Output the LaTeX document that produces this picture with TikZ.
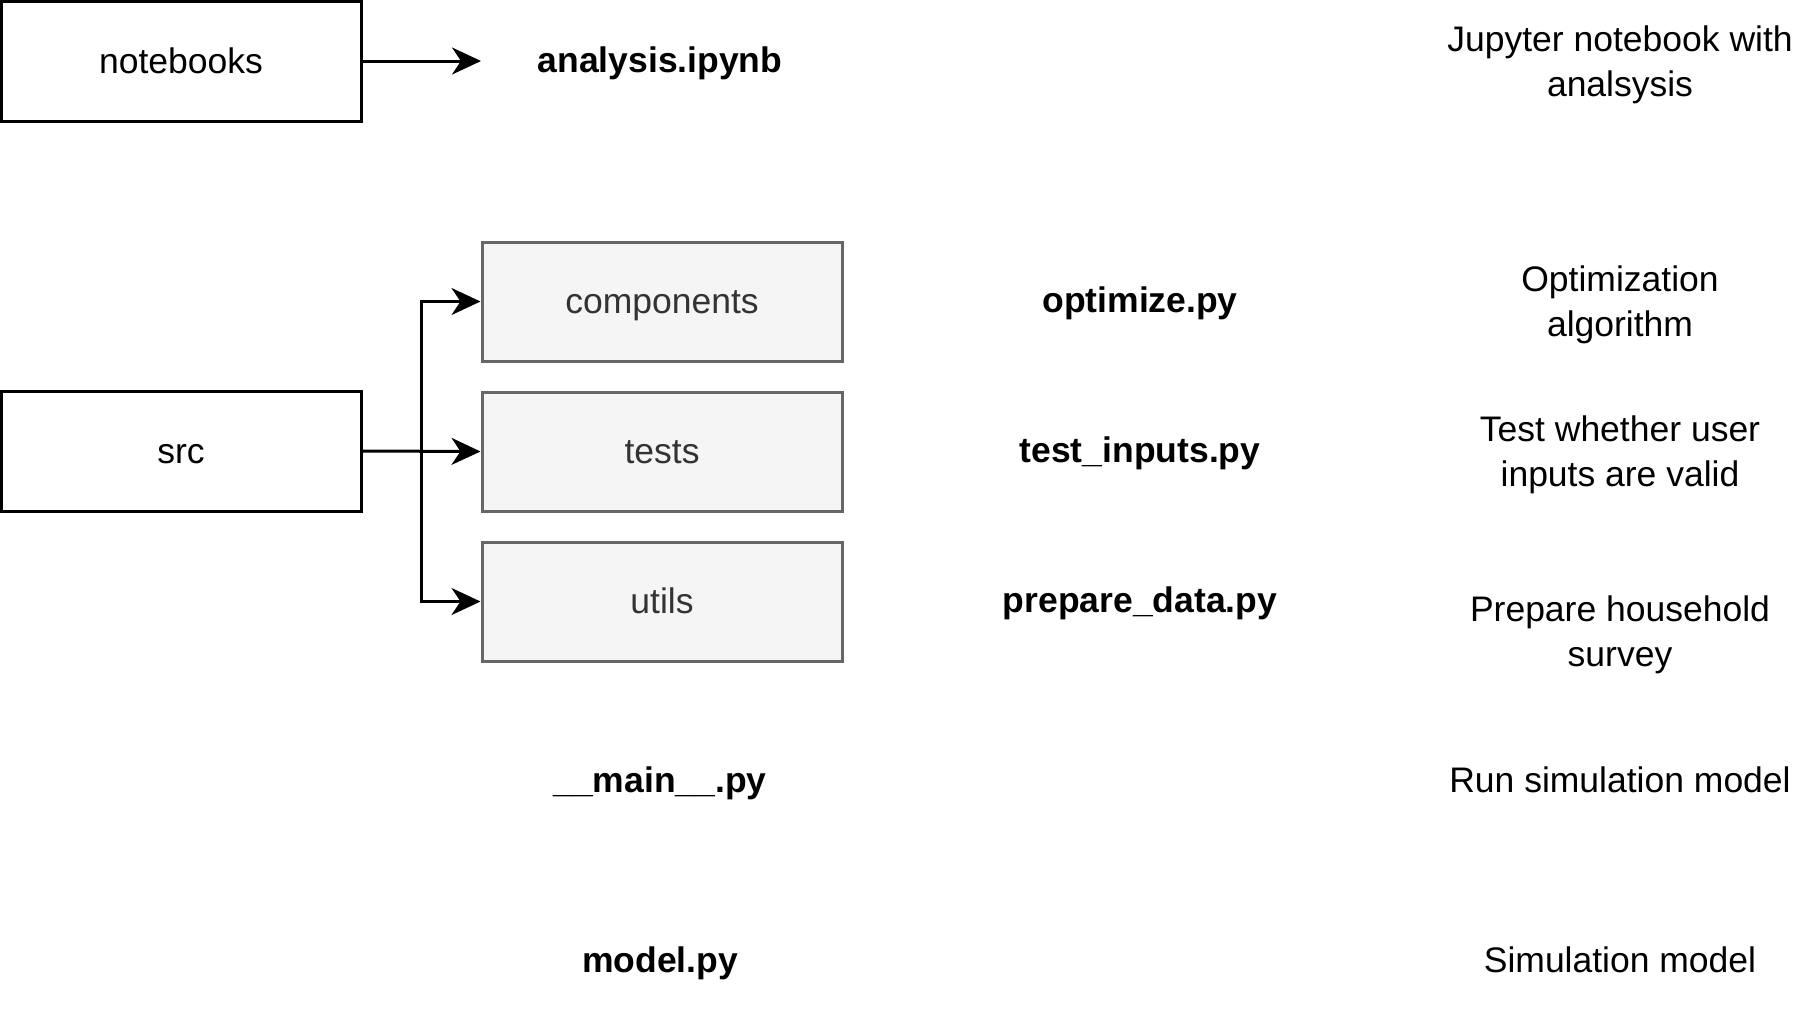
\documentclass[tikz,border=0pt]{standalone}
\usepackage{fontspec}
\setmainfont{Liberation Sans}
\usetikzlibrary{arrows.meta}
\definecolor{boxgray}{HTML}{666666}
\definecolor{boxfill}{HTML}{F5F5F5}
\definecolor{txtgray}{HTML}{333333}
\begin{document}
\begin{tikzpicture}[x=1pt,y=-1pt,
  every node/.style={font=\fontsize{35.5}{45}\selectfont, align=center, inner sep=0pt},
  one/.style={text height=30pt, text depth=6pt},
  multi/.style={yshift=-4.5pt},
  darkbox/.style={one, draw=black, line width=3pt, minimum width=360pt, minimum height=120pt},
  graybox/.style={one, draw=boxgray, fill=boxfill, text=txtgray, line width=3pt, minimum width=360pt, minimum height=119pt},
  fname/.style={one, font=\fontsize{35.5}{45}\selectfont\bfseries},
  conn/.style={line width=3pt, -{Stealth[length=29pt,width=27pt,inset=9pt]}}]
\useasboundingbox (0,0) rectangle (1803,1023);
\node[darkbox] (nb) at (181,61) {notebooks};
\node[fname] (ana) at (660,60) {analysis.ipynb};
\node[darkbox] (src) at (181,451) {src};
\node[graybox] (comp) at (662,301.5) {components};
\node[graybox] (tests) at (662,451.5) {tests};
\node[graybox] (utils) at (662,601.5) {utils};
\node[fname] (opt) at (1140,300) {optimize.py};
\node[fname] (ti) at (1140,450) {test\_inputs.py};
\node[fname] (pd) at (1140,600) {prepare\_data.py};
\node[fname] (main) at (660,780) {\_\_main\_\_.py};
\node[fname] (model) at (660,960) {model.py};
\node[multi] (d1) at (1620,60) {Jupyter notebook with\\analsysis};
\node[multi] (d2) at (1620,300) {Optimization\\algorithm};
\node[multi] (d3) at (1620,450) {Test whether user\\inputs are valid};
\node[multi] (d4) at (1620,630) {Prepare household\\survey};
\node[one] (d5) at (1620,780) {Run simulation model};
\node[one] (d6) at (1620,960) {Simulation model};
\coordinate (nbend) at (481,61);
\draw[conn] (nb.east) -- (nbend);
\coordinate (br) at (421,451);
\draw[conn] (src.east) -- (tests.west);
\draw[conn] (br) |- (comp.west);
\draw[conn] (br) |- (utils.west);
\end{tikzpicture}
\end{document}
